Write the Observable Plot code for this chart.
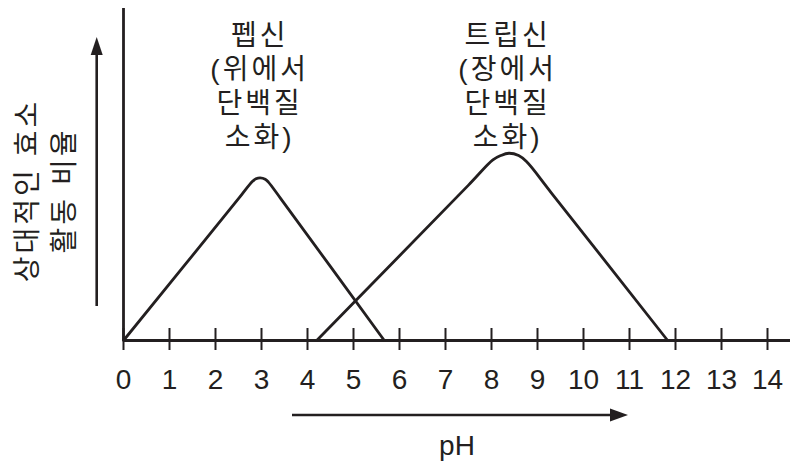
<!DOCTYPE html>
<html><head><meta charset="utf-8">
<script src="https://cdn.jsdelivr.net/npm/d3@7"></script>
<script src="https://cdn.jsdelivr.net/npm/@observablehq/plot@0.6"></script>
<style>body{margin:0;background:#fff;}</style>
</head><body><div id="chart"></div>
<script>
// ---- data ----
const phTicks = [0,1,2,3,4,5,6,7,8,9,10,11,12,13,14];
const pepsinPH       = [0, 2.5, 2.80, 2.88, 2.97, 3.08, 3.15, 3.41, 5.67];
const pepsinActivity = [0, 42.7, 47.9, 48.7, 49.0, 48.6, 47.7, 42.9, 0];
const trypsinPH       = [4.2, 7.5, 8.03, 8.20, 8.38, 8.59, 8.76, 9.3, 11.83];
const trypsinActivity = [0, 46.8, 54.4, 55.7, 56.4, 55.7, 53.9, 44.5, 0];
const enzymeNames = ["펩신\n(위에서\n단백질\n소화)", "트립신\n(장에서\n단백질\n소화)"];
const enzymeLabelPH = [2.96, 8.35];
const yLabel = "상대적인 효소\n활동 비율";
const xLabel = "pH";

const ink = "#231f20";
const font = "'Liberation Sans', 'Noto Sans CJK KR', sans-serif";
const pepsin = pepsinPH.map((ph, i) => ({ph, act: pepsinActivity[i]}));
const trypsin = trypsinPH.map((ph, i) => ({ph, act: trypsinActivity[i]}));
const enzymes = enzymeNames.map((label, i) => ({label, ph: enzymeLabelPH[i]}));

const chart = Plot.plot({
  width: 790, height: 465,
  marginLeft: 123, marginRight: 0, marginTop: 8, marginBottom: 125,
  style: {fontFamily: font, fontSize: "28px", color: ink, background: "#fff", overflow: "visible"},
  x: {domain: [0, 14.5], axis: null},
  y: {domain: [0, 100], axis: null},
  marks: [
    Plot.ruleX(phTicks, {x: d => d, stroke: ink, strokeWidth: 2, insetTop: 320, insetBottom: -10}),
    Plot.ruleY([0], {stroke: ink, strokeWidth: 2.8}),
    Plot.ruleX([0], {stroke: ink, strokeWidth: 2.8}),
    Plot.line(pepsin, {x: "ph", y: "act", curve: "catmull-rom", stroke: ink, strokeWidth: 2.8, strokeLinejoin: "round"}),
    Plot.line(trypsin, {x: "ph", y: "act", curve: "catmull-rom", stroke: ink, strokeWidth: 2.8, strokeLinejoin: "round"}),
    Plot.axisX(phTicks, {tickSize: 0, tickPadding: 29, fontSize: 28, fill: ink, label: null}),
    Plot.text(enzymes, {x: "ph", text: "label", frameAnchor: "top", lineAnchor: "top", lineHeight: 1.214, dy: 12, fontSize: 28, fill: ink}),
    Plot.text([yLabel], {frameAnchor: "left", textAnchor: "middle", lineAnchor: "middle", rotate: -90, lineHeight: 1.32, dx: -80, dy: 16, fontSize: 28, fill: ink}),
    Plot.text([xLabel], {frameAnchor: "bottom", lineAnchor: "top", dy: 95, fontSize: 28, fill: ink})
  ]
});

// wider Korean letter spacing, as in the reference typeface
const textGroups = d3.select(chart).selectAll('g[aria-label="text"]').nodes();
textGroups.slice(0, 2).forEach(n => d3.select(n).style("letter-spacing", "3px"));

// decorative axis arrows (layout, not data)
const g = d3.select(chart).append("g").attr("fill", ink).attr("stroke", ink);
g.append("line").attr("x1", 96.7).attr("x2", 96.7).attr("y1", 306).attr("y2", 52).attr("stroke-width", 2.6);
g.append("path").attr("stroke", "none").attr("d", "M96.7,37 L90.7,55 L102.7,55 Z");
g.append("line").attr("x1", 292).attr("x2", 614).attr("y1", 415).attr("y2", 415).attr("stroke-width", 2.6);
g.append("path").attr("stroke", "none").attr("d", "M628,415 L610,408.5 L610,421.5 Z");

document.getElementById("chart").appendChild(chart);
</script>
</body></html>
